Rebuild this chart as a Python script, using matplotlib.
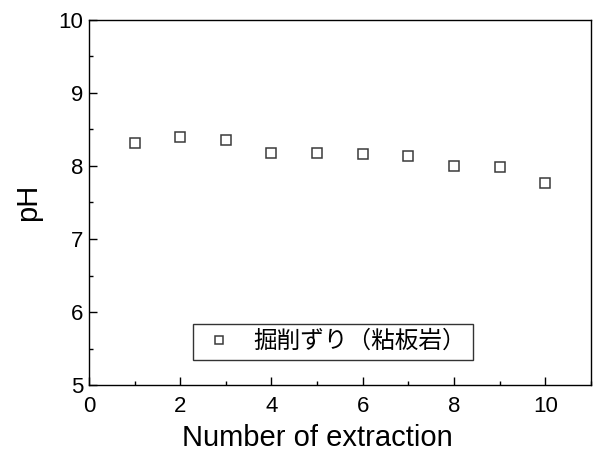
import matplotlib
matplotlib.use('Agg')
import matplotlib.pyplot as plt
from matplotlib.ticker import MultipleLocator

plt.rcParams['font.family'] = ['Liberation Sans', 'Noto Sans CJK JP']

# データ
extraction = [1, 2, 3, 4, 5, 6, 7, 8, 9, 10]
ph = [8.31, 8.40, 8.36, 8.18, 8.18, 8.16, 8.13, 8.00, 7.98, 7.77]
label = '掘削ずり（粘板岩）'

fig = plt.figure(figsize=(5.95, 4.53), dpi=100)
ax = fig.add_axes([0.1496, 0.150, 0.8434, 0.806])

ax.plot(extraction, ph, linestyle='none', marker='s', markersize=7.5,
        markerfacecolor='white', markeredgecolor='#3a3a3a', markeredgewidth=1.1,
        label=label)

ax.set_xlim(0, 11)
ax.set_ylim(5, 10)
ax.xaxis.set_major_locator(MultipleLocator(2))
ax.xaxis.set_minor_locator(MultipleLocator(1))
ax.yaxis.set_major_locator(MultipleLocator(1))
ax.yaxis.set_minor_locator(MultipleLocator(0.5))
ax.tick_params(which='both', direction='in', top=False, right=False, labelsize=16)
ax.tick_params(which='major', length=6, width=1, pad=4)
ax.tick_params(which='minor', length=3, width=1)
ax.tick_params(axis='x', which='major', pad=8)
for s in ax.spines.values():
    s.set_linewidth(1)

ax.set_xlabel('Number of extraction', fontsize=21)
ax.xaxis.set_label_coords(0.456, -0.145, transform=ax.transAxes)
ax.xaxis.label.set_va('center')
ax.set_ylabel('pH', fontsize=21, labelpad=12)

leg = ax.legend(loc='lower center', bbox_to_anchor=(0.486, 0.068), fontsize=17,
                frameon=True, fancybox=False, edgecolor='black', borderpad=0.3,
                handletextpad=0.68, handlelength=1.6, markerscale=0.7,
                borderaxespad=0)
leg.get_frame().set_linewidth(1)

fig.savefig('out.png', dpi=100)
